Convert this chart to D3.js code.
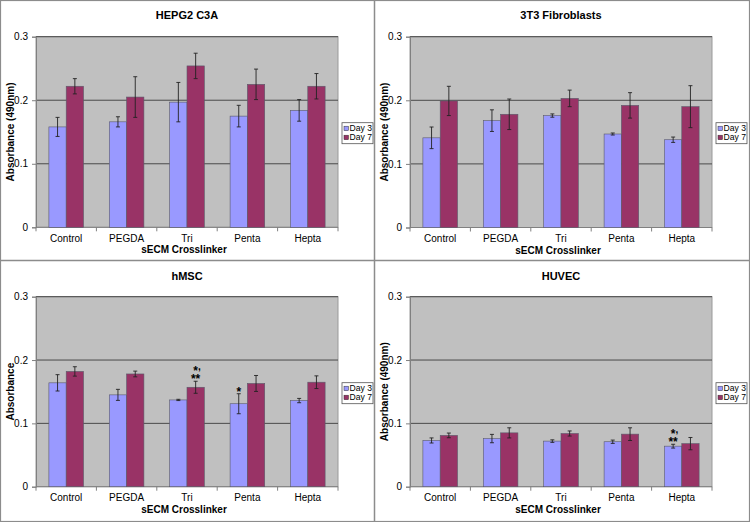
<!DOCTYPE html>
<html>
<head>
<meta charset="utf-8">
<script src="https://cdn.jsdelivr.net/npm/d3@7"></script>
<style>
  html, body { margin: 0; padding: 0; background: #fff; }
  svg { display: block; font-family: "Liberation Sans", Arial, sans-serif; }
</style>
</head>
<body>
<svg id="chart" width="750" height="522"></svg>
<script>
// ---------- DATA ----------
const categories = ["Control", "PEGDA", "Tri", "Penta", "Hepta"];
const seriesNames = ["Day 3", "Day 7"];
const yTicks = [0, 0.1, 0.2, 0.3];
const xTitle = "sECM Crosslinker";

const panelTitles = ["HEPG2 C3A", "3T3 Fibroblasts", "hMSC", "HUVEC"];
const yTitles = ["Absorbance (490nm)", "Absorbance (490nm)", "Absorbance", "Absorbance (490nm)"];

const hepg2Day3 = [0.158, 0.166, 0.197, 0.175, 0.184];
const hepg2Day7 = [0.222, 0.205, 0.254, 0.225, 0.222];
const hepg2Err3 = [0.015, 0.008, 0.031, 0.017, 0.017];
const hepg2Err7 = [0.012, 0.032, 0.020, 0.024, 0.020];

const t3Day3 = [0.141, 0.168, 0.176, 0.147, 0.138];
const t3Day7 = [0.199, 0.178, 0.203, 0.192, 0.190];
const t3Err3 = [0.017, 0.017, 0.0026, 0.0016, 0.0042];
const t3Err7 = [0.023, 0.024, 0.013, 0.020, 0.033];

const hmscDay3 = [0.164, 0.145, 0.137, 0.131, 0.136];
const hmscDay7 = [0.182, 0.178, 0.157, 0.163, 0.165];
const hmscErr3 = [0.0129, 0.0087, 0.001, 0.0158, 0.0034];
const hmscErr7 = [0.0074, 0.0045, 0.0095, 0.0126, 0.010];

const huvecDay3 = [0.073, 0.076, 0.072, 0.071, 0.064];
const huvecDay7 = [0.081, 0.085, 0.084, 0.083, 0.068];
const huvecErr3 = [0.004, 0.0066, 0.002, 0.0026, 0.003];
const huvecErr7 = [0.0037, 0.008, 0.004, 0.010, 0.0097];

// significance marks: panel index, category, series index, text lines (top to bottom)
const marks = [
  { panel: 2, category: "Tri", series: 1, lines: ["*,", "**"] },
  { panel: 2, category: "Penta", series: 0, lines: ["*"] },
  { panel: 3, category: "Hepta", series: 0, lines: ["*,", "**"] }
];

const panelValues = [
  [hepg2Day3, hepg2Day7], [t3Day3, t3Day7], [hmscDay3, hmscDay7], [huvecDay3, huvecDay7]
];
const panelErrors = [
  [hepg2Err3, hepg2Err7], [t3Err3, t3Err7], [hmscErr3, hmscErr7], [huvecErr3, huvecErr7]
];

// ---------- LAYOUT ----------
const colors = ["#9999FF", "#993366"];
const layouts = [
  { ox: 0,   oy: 0,   left: 36, top: 36.7, bottom: 227.3 },
  { ox: 375, oy: 0,   left: 35, top: 36.7, bottom: 227.5 },
  { ox: 0,   oy: 261, left: 36, top: 35.7, bottom: 225.7 },
  { ox: 375, oy: 261, left: 35, top: 35.7, bottom: 225.7 }
];
const plotW = 302;

const svg = d3.select("#chart");

// frame + dividers
svg.append("rect").attr("x", 0.5).attr("y", 0.5).attr("width", 749).attr("height", 521)
  .attr("fill", "#fff").attr("stroke", "#8c8c8c").attr("stroke-width", 1.2);
svg.append("line").attr("x1", 374.5).attr("x2", 374.5).attr("y1", 0).attr("y2", 522)
  .attr("stroke", "#8c8c8c").attr("stroke-width", 1.5);
svg.append("line").attr("x1", 0).attr("x2", 750).attr("y1", 260.5).attr("y2", 260.5)
  .attr("stroke", "#8c8c8c").attr("stroke-width", 1.5);

layouts.forEach((L, pi) => {
  const g = svg.append("g").attr("transform", `translate(${L.ox},${L.oy})`);
  const x0 = d3.scaleBand().domain(categories).range([L.left, L.left + plotW])
    .paddingInner(0.427).paddingOuter(0.2135);
  const x1 = d3.scaleBand().domain([0, 1]).range([0, x0.bandwidth()]);
  const y = d3.scaleLinear().domain([0, 0.3]).range([L.bottom, L.top]);

  // plot area
  g.append("rect").attr("x", L.left).attr("y", L.top).attr("width", plotW)
    .attr("height", L.bottom - L.top).attr("fill", "#C0C0C0")
    .attr("stroke", "#9a9a9a").attr("stroke-width", 1);

  // gridlines
  g.selectAll(".grid").data(yTicks.filter(t => t > 0)).enter().append("line")
    .attr("x1", L.left).attr("x2", L.left + plotW)
    .attr("y1", d => y(d)).attr("y2", d => y(d))
    .attr("stroke", "#4a4a4a").attr("stroke-width", 1);

  // y axis
  const yAxis = d3.axisLeft(y).tickValues(yTicks).tickSize(4).tickPadding(4)
    .tickFormat(d => d === 0 ? "0" : d3.format(".1f")(d));
  const ya = g.append("g").attr("transform", `translate(${L.left},0)`).call(yAxis);
  ya.select(".domain").attr("stroke", "#808080");
  ya.selectAll(".tick line").attr("stroke", "#808080");
  ya.selectAll("text").attr("font-size", 10).attr("fill", "#000")
    .attr("font-family", "Liberation Sans, Arial, sans-serif");

  // x axis line + ticks at category boundaries
  g.append("line").attr("x1", L.left).attr("x2", L.left + plotW)
    .attr("y1", L.bottom).attr("y2", L.bottom).attr("stroke", "#808080");
  d3.range(categories.length + 1).forEach(i => {
    const xx = L.left + i * plotW / categories.length;
    g.append("line").attr("x1", xx).attr("x2", xx).attr("y1", L.bottom).attr("y2", L.bottom + 4)
      .attr("stroke", "#808080");
  });
  g.selectAll(".xl").data(categories).enter().append("text")
    .attr("x", d => x0(d) + x0.bandwidth() / 2)
    .attr("y", L.bottom + 14.5)
    .attr("text-anchor", "middle").attr("font-size", 10).text(d => d);

  // bars
  const vals = panelValues[pi], errs = panelErrors[pi];
  categories.forEach((c, ci) => {
    [0, 1].forEach(si => {
      const v = vals[si][ci], e = errs[si][ci];
      const bx = x0(c) + x1(si);
      g.append("rect").attr("x", bx).attr("y", y(v)).attr("width", x1.bandwidth())
        .attr("height", y(0) - y(v)).attr("fill", colors[si])
        .attr("stroke", "#5a5a6a").attr("stroke-width", 0.6);
      const cx = bx + x1.bandwidth() / 2;
      g.append("line").attr("x1", cx).attr("x2", cx).attr("y1", y(v + e)).attr("y2", y(v - e))
        .attr("stroke", "#222").attr("stroke-width", 0.9);
      [v + e, v - e].forEach(t => {
        g.append("line").attr("x1", cx - 2).attr("x2", cx + 2).attr("y1", y(t)).attr("y2", y(t))
          .attr("stroke", "#222").attr("stroke-width", 0.9);
      });
    });
  });

  // significance marks (one text element; comma raised next to the star)
  marks.filter(m => m.panel === pi).forEach(m => {
    const ci = categories.indexOf(m.category);
    const v = vals[m.series][ci], e = errs[m.series][ci];
    const cx = x0(m.category) + x1(m.series) + x1.bandwidth() / 2;
    const lastBase = y(v + e) + 2;
    const n = m.lines.length;
    const t = g.append("text").attr("text-anchor", "start")
      .attr("font-size", 12).attr("font-weight", "bold");
    m.lines.forEach((line, li) => {
      const by = lastBase - (n - 1 - li) * 8.5;
      const stars = line.replace(",", "");
      const starW = stars.length * 4.7;
      t.append("tspan").attr("x", cx - starW / 2).attr("y", by).text(stars);
      if (line.includes(",")) {
        t.append("tspan").attr("dy", -5).attr("font-size", 10).text(",");
        t.append("tspan").attr("dy", 5).text("");
      }
    });
  });

  // titles
  g.append("text").attr("x", L.left + plotW / 2).attr("y", 19)
    .attr("text-anchor", "middle").attr("font-size", 11).attr("font-weight", "bold")
    .text(panelTitles[pi]);
  g.append("text").attr("x", L.left + plotW / 2 - 3).attr("y", L.bottom + 26)
    .attr("text-anchor", "middle").attr("font-size", 10).attr("font-weight", "bold")
    .text(xTitle);
  g.append("text")
    .attr("transform", `translate(${L.left - 22},${(L.top + L.bottom) / 2}) rotate(-90)`)
    .attr("text-anchor", "middle").attr("font-size", 10).attr("font-weight", "bold")
    .text(yTitles[pi]);

  // legend
  const lg = g.append("g").attr("transform", `translate(${L.left + plotW + 3.5},${L.top + 85.5})`);
  lg.append("rect").attr("x", 0.5).attr("y", 0.5).attr("width", 31).attr("height", 21)
    .attr("fill", "#fff").attr("stroke", "#555").attr("stroke-width", 0.8);
  seriesNames.forEach((s, si) => {
    lg.append("rect").attr("x", 2.5).attr("y", 4 + si * 9).attr("width", 4.5).attr("height", 4.5)
      .attr("fill", colors[si]).attr("stroke", "#333").attr("stroke-width", 0.5);
    lg.append("text").attr("x", 8).attr("y", 8.8 + si * 9).attr("font-size", 8.6).text(s);
  });
});
</script>
</body>
</html>
